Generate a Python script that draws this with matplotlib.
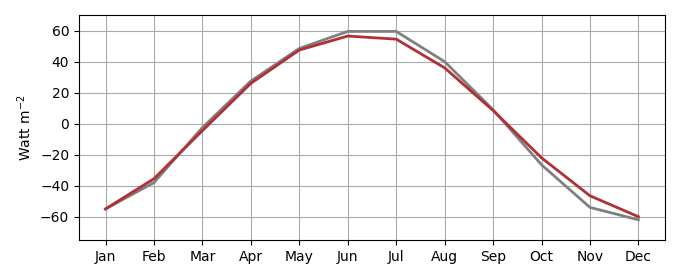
import matplotlib.pyplot as plt

months = ['Jan', 'Feb', 'Mar', 'Apr', 'May', 'Jun',
          'Jul', 'Aug', 'Sep', 'Oct', 'Nov', 'Dec']
gray_vals = [-55, -38, -2.5, 27.5, 48.5, 59.5, 59.5, 40, 9, -26.5, -54, -62]
red_vals = [-55, -35.5, -4.5, 26, 47.5, 56.5, 54.5, 36, 8.5, -22, -46.5, -60]

fig = plt.figure(figsize=(6.8, 2.8), dpi=100)
ax = fig.add_axes([0.116, 0.143, 0.862, 0.803])
x = list(range(len(months)))
ax.plot(x, gray_vals, color='gray', linewidth=2)
ax.plot(x, red_vals, color='#b03035', linewidth=2)
ax.set_xticks(x)
ax.set_xticklabels(months)
ax.set_xlim(-0.55, 11.55)
ax.set_ylim(-75, 70)
ax.set_yticks([-60, -40, -20, 0, 20, 40, 60])
ax.grid(True, color='#aaaaaa')
ax.set_axisbelow(True)
ax.set_ylabel('Watt m$^{-2}$')
fig.savefig('out.png')
